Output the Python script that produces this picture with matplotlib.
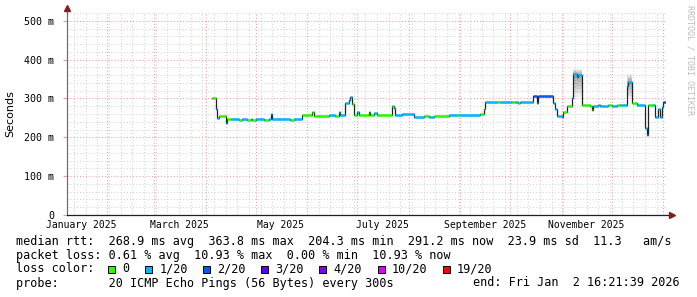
import matplotlib
matplotlib.use("Agg")
import numpy as np
import pandas as pd
import matplotlib.pyplot as plt
import matplotlib.dates as mdates
import matplotlib.transforms as mtransforms
from matplotlib.patches import Rectangle
from matplotlib.ticker import MultipleLocator, NullFormatter

MONO = "DejaVu Sans Mono"

# median rtt as steps: start date, value (ms), loss class index
step_dates = [
    "2025-04-05", "2025-04-07", "2025-04-08", "2025-04-09", "2025-04-13", "2025-04-14",
    "2025-04-16", "2025-04-21", "2025-04-23", "2025-04-26", "2025-04-28", "2025-04-29",
    "2025-05-01", "2025-05-06", "2025-05-09", "2025-05-10", "2025-05-11", "2025-05-22",
    "2025-05-24", "2025-05-29", "2025-06-04", "2025-06-05", "2025-06-14", "2025-06-18",
    "2025-06-20", "2025-06-21", "2025-06-24", "2025-06-26", "2025-06-27", "2025-06-28",
    "2025-06-29", "2025-07-01", "2025-07-02", "2025-07-08", "2025-07-09", "2025-07-11",
    "2025-07-13", "2025-07-22", "2025-07-23", "2025-07-24", "2025-07-28", "2025-08-04",
    "2025-08-10", "2025-08-13", "2025-08-16", "2025-08-25", "2025-08-30", "2025-08-31",
    "2025-09-13", "2025-09-15", "2025-09-16", "2025-09-23", "2025-09-25", "2025-10-02",
    "2025-10-04", "2025-10-06", "2025-10-07", "2025-10-15", "2025-10-17", "2025-10-18",
    "2025-10-27", "2025-10-28", "2025-10-29", "2025-11-01", "2025-11-02", "2025-11-04",
    "2025-11-07", "2025-11-08", "2025-11-10", "2025-11-11", "2025-11-13", "2025-11-18",
    "2025-11-19", "2025-11-20", "2025-11-23", "2025-11-24", "2025-11-29", "2025-12-01",
    "2025-12-04", "2025-12-06", "2025-12-10", "2025-12-11", "2025-12-13", "2025-12-16",
    "2025-12-21", "2025-12-22", "2025-12-23", "2025-12-26", "2025-12-27", "2025-12-29",
    "2025-12-30", "2025-12-31", "2026-01-01",
]
step_ms = [
    300, 274, 250, 254, 238, 246,
    246, 245, 246, 245, 246, 245,
    246, 245, 246, 259, 246, 245,
    246, 257, 264, 256, 258, 256,
    265, 257, 288, 296, 303, 285,
    258, 264, 257, 266, 257, 263,
    258, 281, 275, 258, 260, 253,
    255, 253, 254, 258, 258, 258,
    259, 272, 290, 290, 290, 291,
    291, 289, 291, 307, 288, 307,
    288, 273, 256, 252, 264, 281,
    302, 363, 356, 361, 282, 280,
    271, 281, 284, 281, 282, 281,
    283, 282, 331, 343, 288, 283,
    225, 205, 282, 282, 253, 272,
    253, 279, 292,
]
step_loss = [
    0, 1, 1, 0, 1, 0,
    1, 0, 1, 0, 1, 0,
    1, 0, 1, 1, 1, 0,
    1, 0, 0, 0, 1, 0,
    0, 1, 1, 1, 1, 0,
    0, 1, 0, 0, 0, 1,
    0, 0, 1, 1, 1, 1,
    0, 1, 0, 1, 0, 1,
    0, 0, 1, 0, 1, 0,
    1, 0, 1, 2, 1, 2,
    1, 1, 1, 1, 0, 0,
    1, 1, 1, 1, 0, 0,
    0, 1, 1, 1, 0, 1,
    0, 1, 1, 1, 0, 1,
    1, 1, 0, 1, 1, 1,
    1, 1, 2,
]
end_time = "2026-01-02 16:21:39"

# ping spread ("smoke") where it is visible
smoke_start = ["2025-11-08", "2025-12-10"]
smoke_end = ["2025-11-13", "2025-12-13"]
smoke_low = [305, 300]
smoke_high = [375, 362]

loss_labels = ["0", "1/20", "2/20", "3/20", "4/20", "10/20", "19/20"]
loss_colors = ["#26ff00", "#00b8ff", "#0059ff", "#5e00ff", "#7e00ff", "#dd00ff", "#ff0000"]

month_labels = ["January 2025", "March 2025", "May 2025", "July 2025",
                "September 2025", "November 2025"]
month_label_dates = ["2025-01-16", "2025-03-16", "2025-05-16", "2025-07-16",
                     "2025-09-16", "2025-11-16"]
ytick_values = [0, 100, 200, 300, 400, 500]
ytick_labels = ["0", "100 m", "200 m", "300 m", "400 m", "500 m"]

legend_lines = [
    "median rtt:  268.9 ms avg  363.8 ms max  204.3 ms min  291.2 ms now  23.9 ms sd  11.3   am/s",
    "packet loss: 0.61 % avg  10.93 % max  0.00 % min  10.93 % now",
]
probe_text = "probe:       20 ICMP Echo Pings (56 Bytes) every 300s"
end_text = "end: Fri Jan  2 16:21:39 2026"

W, H = 697, 297


def fx(px):
    return px / W


def fy(py):
    return 1 - py / H


def plot_smokeping(output_file="out.png"):
    fig = plt.figure(figsize=(W / 100, H / 100), dpi=100, facecolor="white")
    ax = fig.add_axes([fx(67), fy(215), 599 / W, 202 / H])

    end = pd.Timestamp(end_time)
    start = end - pd.Timedelta(days=360)
    ax.set_xlim(mdates.date2num(start), mdates.date2num(end))
    ax.set_ylim(0, 520)

    # grid
    ax.xaxis.set_major_locator(mdates.MonthLocator())
    ax.xaxis.set_minor_locator(mdates.WeekdayLocator(byweekday=mdates.SU))
    ax.xaxis.set_major_formatter(NullFormatter())
    ax.yaxis.set_major_locator(MultipleLocator(100))
    ax.yaxis.set_minor_locator(MultipleLocator(20))
    ax.set_yticks(ytick_values)
    ax.set_yticklabels(ytick_labels, fontfamily=MONO, fontsize=7.2)
    ax.grid(which="minor", color="#d4d4d4", linestyle=(0, (1, 2)), linewidth=0.75)
    ax.grid(which="major", color="#eaa0a0", linestyle=(0, (1, 2)), linewidth=0.75)
    ax.set_axisbelow(True)
    ax.tick_params(axis="x", which="both", length=0)
    ax.tick_params(axis="y", which="major", length=3, color="#eaa0a0", pad=6)
    ax.tick_params(axis="y", which="minor", length=0)
    for s in ax.spines.values():
        s.set_visible(False)

    # month labels centred in the month
    trans = mtransforms.blended_transform_factory(ax.transData, ax.transAxes)
    for d, lab in zip(month_label_dates, month_labels):
        ax.text(mdates.date2num(pd.Timestamp(d)), -0.05, lab, transform=trans,
                ha="center", va="center", fontfamily=MONO, fontsize=7, clip_on=False)

    # median line
    x = mdates.date2num(pd.to_datetime(step_dates))
    x_end = np.append(x, mdates.date2num(end))
    y = np.array(step_ms, dtype=float)

    # smoke
    for s0, s1, lo, hi in zip(smoke_start, smoke_end, smoke_low, smoke_high):
        a, b = mdates.date2num(pd.Timestamp(s0)), mdates.date2num(pd.Timestamp(s1))
        m = (x >= a) & (x < b)
        xs = np.append(x[m], b)
        med = np.append(y[m], y[m][-1])
        for k in range(1, 7):
            ax.fill_between(xs, med - (med - lo) * k / 6, med + (hi - med) * k / 6,
                            step="post", color="#000000", alpha=0.065, linewidth=0)

    ax.step(x_end, np.append(y, y[-1]), where="post", color="#202020", linewidth=0.9, zorder=3)
    ax.hlines(y, x_end[:-1], x_end[1:], colors=[loss_colors[i] for i in step_loss],
              linewidth=1.8, zorder=4)

    # axes with arrows
    ax.plot([0, 0], [0, 1.01], transform=ax.transAxes, color="#707070",
            linewidth=0.9, clip_on=False, zorder=5)
    ax.plot([0, 1.01], [0, 0], transform=ax.transAxes, color="#202020",
            linewidth=0.9, clip_on=False, zorder=5)
    ax.plot([0], [1.025], transform=ax.transAxes, marker="^", markersize=4,
            color="#7f1f1f", clip_on=False, zorder=6)
    ax.plot([1.0105], [0], transform=ax.transAxes, marker=">", markersize=4,
            color="#7f1f1f", clip_on=False, zorder=6)

    fig.text(fx(10), fy(114), "Seconds", rotation=90, ha="center", va="center",
             fontsize=8, fontfamily="DejaVu Sans")
    fig.text(fx(690), fy(5), "RRDTOOL / TOBI OETIKER", rotation=270, ha="center",
             va="top", fontsize=6, fontfamily=MONO, color="#bdbdbd")

    # legend block
    fig.text(fx(16), fy(241), legend_lines[0], ha="left", va="center",
             fontfamily=MONO, fontsize=8.5)
    fig.text(fx(16), fy(255), legend_lines[1], ha="left", va="center",
             fontfamily=MONO, fontsize=8.5)
    fig.text(fx(16), fy(269), "loss color:", ha="left", va="center",
             fontfamily=MONO, fontsize=8.5)
    cw = 7.1
    col = 13
    for i, (lab, c) in enumerate(zip(loss_labels, loss_colors)):
        px = 16 + col * cw + i * 1.3
        fig.add_artist(Rectangle((fx(px), fy(272.5)), 7 / W, 7 / H, facecolor=c,
                                 edgecolor="black", linewidth=0.7,
                                 transform=fig.transFigure))
        fig.text(fx(px + 2 * cw), fy(269), lab, ha="left", va="center",
                 fontfamily=MONO, fontsize=8.5)
        col += 2 + len(lab) + 2
    fig.text(fx(16), fy(283), probe_text, ha="left", va="center",
             fontfamily=MONO, fontsize=8.5)
    fig.text(fx(680), fy(283), end_text, ha="right", va="center",
             fontfamily=MONO, fontsize=8.5)

    fig.savefig(output_file, dpi=100, facecolor=fig.get_facecolor())
    plt.close(fig)


plot_smokeping()
